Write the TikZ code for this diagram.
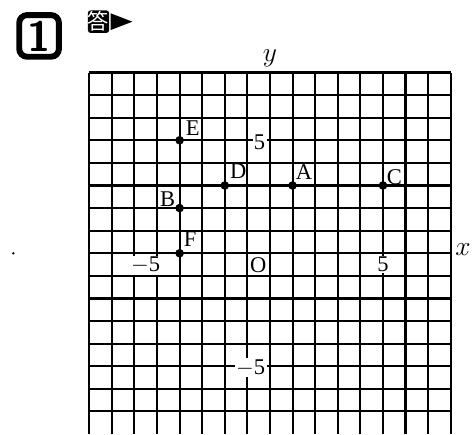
\documentclass[tikz,border=0pt]{standalone}
\usepackage{fontspec}
\newfontfamily\cjk{Noto Sans CJK JP}
\newfontfamily\lblfont{Liberation Serif}
\usepackage{tikz}

\begin{document}
\begin{tikzpicture}[x=0.6cm,y=0.6cm,
    gridline/.style={line width=1.6pt},
    axisline/.style={line width=1.8pt},
    dot/.style={circle,fill=black,inner sep=0pt,minimum size=6.5pt},
    ptlabel/.style={inner sep=0pt,font=\lblfont\fontsize{17}{19}\selectfont},
    ticklabel/.style={fill=white,inner sep=1pt,font=\lblfont\fontsize{17}{19}\selectfont},
    axislabel/.style={inner sep=0pt,font=\fontsize{20}{22}\selectfont},
    numbox/.style={draw,line width=4.5pt,rounded corners=6pt,minimum width=30pt,
      minimum height=31.5pt,inner sep=0pt,font=\sffamily\bfseries\fontsize{32}{32}\selectfont},
    ansbox/.style={fill=black,text=white,rounded corners=2pt,minimum width=15.75pt,
      minimum height=17pt,inner sep=0pt,font=\cjk\fontsize{16}{16}\selectfont}]
          \useasboundingbox (-11.95,-8) rectangle (9.03,11.21);
          % heading
          \node[numbox] (qnum) at (-10.22,9.62) {1};
          \node[ansbox] (ans) at (-7.59,10.25) {答};
          \fill (-7.05,10.62) -- (-6.09,10.25) -- (-7.05,9.88) -- cycle;
          \fill (-11.36,0) circle (1pt);
          % grid and axes
          \foreach \i in {-8,...,8}{
            \draw[gridline] (\i,-8) -- (\i,8);}
          \foreach \j in {-7,...,8}{
            \draw[gridline] (-8,\j) -- (8,\j);}
          \draw[axisline] (-8,0) -- (8,0);
          \draw[axisline] (0,-8) -- (0,8);
          \node[axislabel] (xlab) at (8.54,0.15) {$x$};
          \node[axislabel] (ylab) at (0,8.64) {$y$};
          \node[ptlabel,anchor=north east] (orig) at (-0.15,-0.2) {O};
          \node[ticklabel,anchor=north] (xp5) at (5,-0.1) {5};
          \node[ticklabel,anchor=north east] (xm5) at (-4.79,-0.1) {$-$5};
          \node[ticklabel,anchor=east] (yp5) at (-0.14,4.9) {5};
          \node[ticklabel,anchor=east] (ym5) at (-0.14,-5.07) {$-$5};
          % points
          \node[dot] (A) at (1,3) {};
          \node[dot] (B) at (-4,2) {};
          \node[dot] (C) at (5,3) {};
          \node[dot] (D) at (-2,3) {};
          \node[dot] (E) at (-4,5) {};
          \node[dot] (F) at (-4,0) {};
          \node[ptlabel,anchor=south west] (labA) at ([shift={(0.13,0.27)}]A.center) {A};
          \node[ptlabel,anchor=south east] (labB) at ([shift={(-0.19,0.04)}]B.center) {B};
          \node[ptlabel,anchor=south west] (labC) at ([shift={(0.16,0.04)}]C.center) {C};
          \node[ptlabel,anchor=south west] (labD) at ([shift={(0.22,0.31)}]D.center) {D};
          \node[ptlabel,anchor=south west] (labE) at ([shift={(0.27,0.22)}]E.center) {E};
          \node[ptlabel,anchor=south west] (labF) at ([shift={(0.18,0.29)}]F.center) {F};
        \end{tikzpicture}
\end{document}
